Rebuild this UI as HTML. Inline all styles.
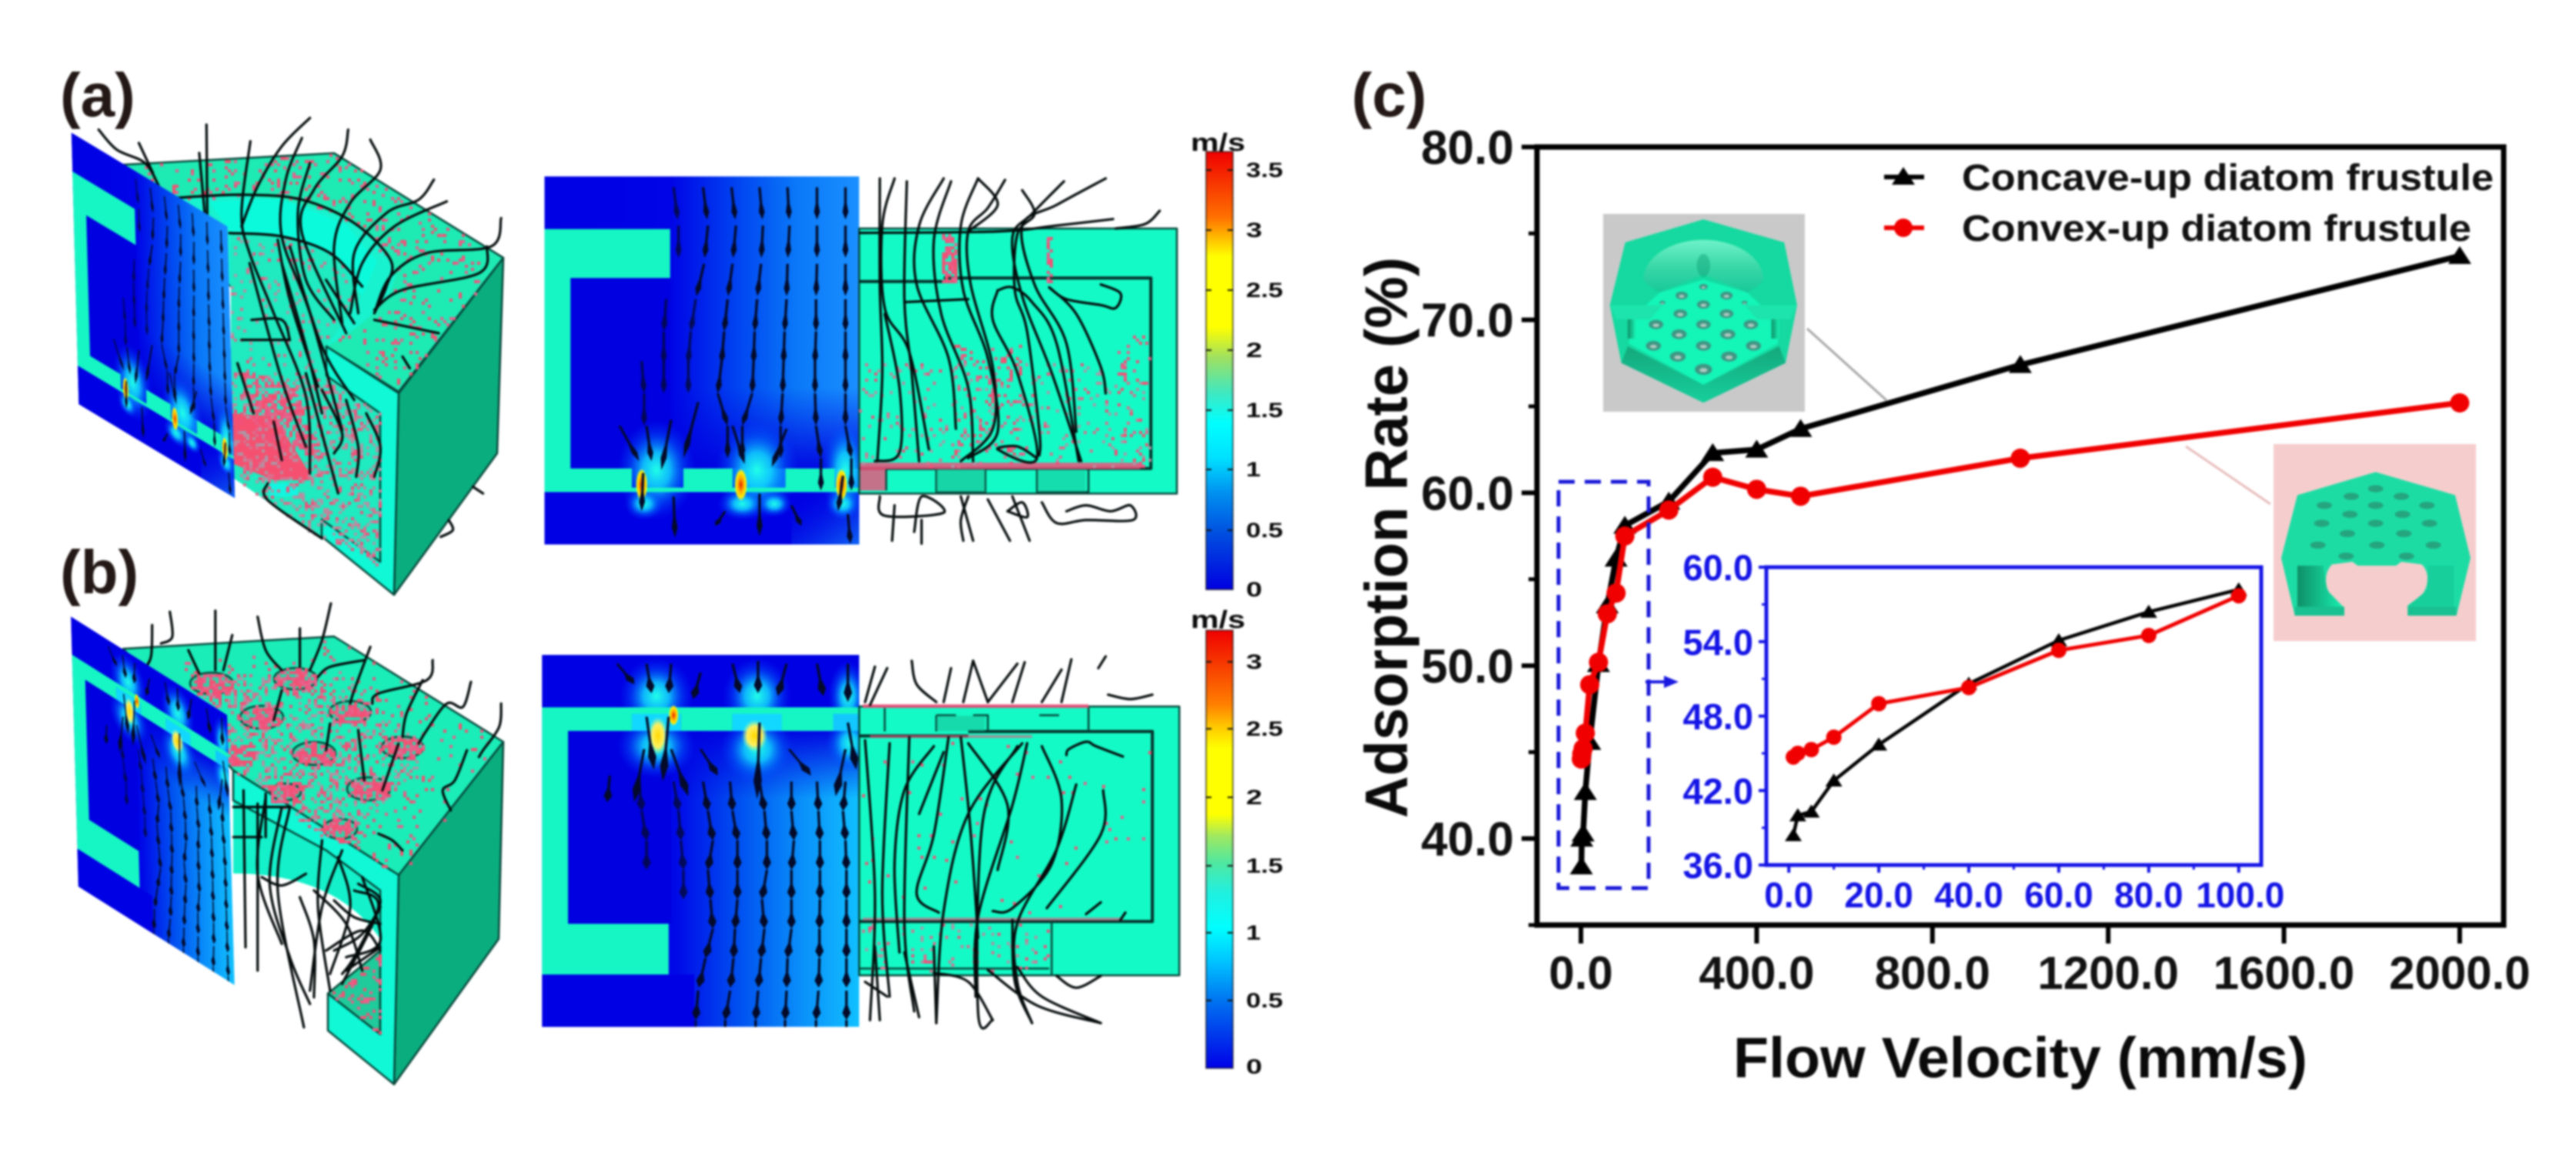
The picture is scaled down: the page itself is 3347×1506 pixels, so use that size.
<!DOCTYPE html>
<html lang="en"><head><meta charset="utf-8"><title>Flow fields and adsorption rate of diatom frustules</title>
<style>
html,body{margin:0;padding:0;background:#fff;width:3347px;height:1506px;overflow:hidden}
svg{display:block;filter:blur(1.3px)}
text{font-family:"Liberation Sans",Arial,sans-serif;font-weight:bold}
.sl{fill:none;stroke:#040a0a;stroke-width:3.2;stroke-linejoin:round;stroke-linecap:round;vector-effect:non-scaling-stroke}
.edge{stroke:#07463a;stroke-width:2.5;stroke-linejoin:round;vector-effect:non-scaling-stroke}
.lbl{fill:#231815;font-size:80px}
.cb{fill:#0a0a0a;font-size:27px}
</style></head><body>
<svg id="figure" xmlns="http://www.w3.org/2000/svg" width="3347" height="1506" viewBox="0 0 3347 1506">
<defs>
<linearGradient id="gSliceA" x1="0" x2="1" y1="0" y2="0"><stop offset="0" stop-color="#0000e4"/><stop offset=".4" stop-color="#0004e6"/><stop offset=".6" stop-color="#0040f0"/><stop offset=".8" stop-color="#0a78f8"/><stop offset="1" stop-color="#1a90ff"/></linearGradient>
<linearGradient id="gSliceB" x1="0" x2="1" y1="0" y2="0"><stop offset="0" stop-color="#0000e4"/><stop offset=".42" stop-color="#0008e8"/><stop offset=".62" stop-color="#0050f0"/><stop offset=".82" stop-color="#0a90fa"/><stop offset="1" stop-color="#10c0ff"/></linearGradient>
<linearGradient id="gFadeDown" x1="0" x2="0" y1="0" y2="1"><stop offset="0" stop-color="#0000e0" stop-opacity="0"/><stop offset="1" stop-color="#0000e0" stop-opacity=".92"/></linearGradient>
<linearGradient id="gFadeUp" x1="0" x2="0" y1="1" y2="0"><stop offset="0" stop-color="#0000e0" stop-opacity="0"/><stop offset="1" stop-color="#0000e0" stop-opacity=".95"/></linearGradient>
<linearGradient id="gRightGlow" x1="0" x2="1" y1="0" y2="1"><stop offset="0" stop-color="#0000e0" stop-opacity="0"/><stop offset="1" stop-color="#1070f8" stop-opacity=".9"/></linearGradient>
<radialGradient id="gJet"><stop offset="0" stop-color="#20ffe8"/><stop offset=".35" stop-color="#10d8ff" stop-opacity=".85"/><stop offset=".7" stop-color="#0070ff" stop-opacity=".4"/><stop offset="1" stop-color="#0040ff" stop-opacity="0"/></radialGradient>
<radialGradient id="gHot"><stop offset="0" stop-color="#e81800"/><stop offset=".45" stop-color="#ffb000"/><stop offset=".8" stop-color="#fff000"/><stop offset="1" stop-color="#ffff40" stop-opacity="0"/></radialGradient>
<radialGradient id="gHotY"><stop offset="0" stop-color="#ffd800"/><stop offset=".6" stop-color="#fff060"/><stop offset="1" stop-color="#a0ffb0" stop-opacity="0"/></radialGradient>
<linearGradient id="gBarA" x1="0" x2="0" y1="0" y2="1"><stop offset="0" stop-color="#f00000"/><stop offset=".15" stop-color="#ff7000"/><stop offset=".2" stop-color="#ffc000"/><stop offset=".24" stop-color="#ffff00"/><stop offset=".4" stop-color="#ffff00"/><stop offset=".47" stop-color="#a0e060"/><stop offset=".55" stop-color="#40e8c0"/><stop offset=".62" stop-color="#00ffff"/><stop offset=".7" stop-color="#00e0ff"/><stop offset=".78" stop-color="#0090f0"/><stop offset=".87" stop-color="#0050e0"/><stop offset="1" stop-color="#0000e0"/></linearGradient>
<linearGradient id="gBarB" x1="0" x2="0" y1="0" y2="1"><stop offset="0" stop-color="#f00000"/><stop offset=".17" stop-color="#ff8000"/><stop offset=".22" stop-color="#ffc800"/><stop offset=".27" stop-color="#ffff00"/><stop offset=".42" stop-color="#ffff00"/><stop offset=".47" stop-color="#a0e860"/><stop offset=".53" stop-color="#50e8a0"/><stop offset=".6" stop-color="#20f0e0"/><stop offset=".68" stop-color="#00ffff"/><stop offset=".76" stop-color="#00c0ff"/><stop offset=".85" stop-color="#0070f0"/><stop offset="1" stop-color="#0000e8"/></linearGradient>
<linearGradient id="gBowl" x1="0" x2="0" y1="0" y2="1"><stop offset="0" stop-color="#6ff2c8"/><stop offset=".5" stop-color="#3ad8a8"/><stop offset="1" stop-color="#17c898"/></linearGradient>
<linearGradient id="gBevel" x1="0" x2="0" y1="0" y2="1"><stop offset="0" stop-color="#14a87c"/><stop offset="1" stop-color="#16cf9b"/></linearGradient>
<linearGradient id="gLeg" x1="0" x2="1" y1="0" y2="0"><stop offset="0" stop-color="#0f8f68"/><stop offset="1" stop-color="#18f0b0"/></linearGradient>
<clipPath id="clipA"><rect x="137" y="233" width="641" height="1250"/></clipPath>
<clipPath id="clipB"><rect x="132" y="290" width="646" height="1263"/></clipPath>
</defs>
<rect width="3347" height="1506" fill="#fff"/>

<!-- Panel a: 3D block -->
<g id="block-a">
<polygon class="edge" points="160,214 434,199 654,335 518,509 424,450 300,372" fill="#1eeab4"/>
<path d="M225,257C290,250 380,250 460,290C500,320 520,350 512,365C505,395 470,425 424,450L300,372Z" fill="#18f2cf"/>
<polygon points="300,305 366,305 445,333 470,385 424,450 424,490 494,537 494,734 418,698 345,650 300,619" fill="#1feac0"/>
<polygon points="272,262 366,258 450,292 490,340 470,385 440,335 366,305 298,300" fill="#0cfadc"/>
<polygon class="edge" points="654,335 518,511 512,773 646,589" fill="#0aad7e"/>
<polygon class="edge" points="424,450 518,511 512,773 418,697 418,675 494,730 494,537 424,488" fill="#10f8d6"/>
<polygon points="301,537 356,541 408,624 356,624 301,602" fill="#f5506f"/>
<polygon points="350,628 387,628 387,645 350,645" fill="#12f5e0"/>
</g>
<g id="specks-a"></g>
<g id="lines-a" transform="translate(0,60) scale(.523,.4337)">
<path class="sl" d="M430,455 600,445 750,460 880,530 970,640 960,720 930,800"/>
<path class="sl" d="M570,560 700,570 820,620 900,720"/>
<path class="sl" d="M245,250 290,310 360,350 395,420"/><path class="sl" d="M345,290 380,380"/>
<path class="sl" d="M513,235 515,520"/><path class="sl" d="M495,320 510,520"/>
<path class="sl" d="M622,285 600,500 620,620 680,800 760,1050 770,1280"/>
<path class="sl" d="M770,215 700,300 640,420 600,540"/>
<path class="sl" d="M750,275 710,400 700,570 770,800 850,1150"/>
<path class="sl" d="M770,350 740,500 760,700 830,820"/>
<path class="sl" d="M865,250 850,330 780,430 750,560 860,860"/>
<path class="sl" d="M920,280 945,370 870,470 830,600 850,830"/>
<path class="sl" d="M1078,400 1040,460 960,500 880,620 890,800"/>
<path class="sl" d="M1110,465 980,540 900,650 870,800"/>
<path class="sl" d="M1245,515 1220,600 1060,620 970,690 930,800"/>
<path class="sl" d="M1210,600 1190,680 1000,730 930,790"/>
<path class="sl" d="M930,820 1090,860"/><path class="sl" d="M1000,930 1018,965"/>
<path class="sl" d="M620,650 700,1000 760,1200"/><path class="sl" d="M680,1125 700,1240"/>
<path class="sl" d="M800,1030 850,1160 830,1220"/><path class="sl" d="M860,1060 890,1200 885,1290"/>
<path class="sl" d="M910,1100 945,1200 930,1290"/><path class="sl" d="M720,600 800,900 880,1060"/>
<path class="sl" d="M625,820 700,820 720,880"/><path class="sl" d="M600,880 720,880"/>
<path class="sl" d="M590,950 630,1100"/><path class="sl" d="M760,980 840,1340"/>
<path class="sl" d="M1175,1320 1200,1340"/><path class="sl" d="M1115,1420 1125,1450 1095,1470"/>
<path class="sl" d="M665,1310 665,1360 800,1475"/>
<path class="sl" d="M700,650 760,900 800,1100"/><path class="sl" d="M810,700 880,830"/><path class="sl" d="M690,580 720,760 790,1020"/>
</g>
<g id="slice-a">
<g transform="translate(620,140) scale(.638,.3827)" clip-path="url(#clipA)">
<rect x="137" y="233" width="641" height="1250" fill="url(#gSliceA)"/>
<rect x="393" y="950" width="385" height="275" fill="url(#gFadeDown)"/>
<rect x="137" y="1305" width="641" height="178" fill="#0000e4"/>
<rect x="640" y="1305" width="138" height="178" fill="url(#gRightGlow)"/>
<rect x="190" y="578" width="203" height="647" fill="#0000e0"/>
<ellipse cx="365" cy="1230" rx="80" ry="170" fill="url(#gJet)"/><ellipse cx="570" cy="1230" rx="85" ry="170" fill="url(#gJet)"/><ellipse cx="750" cy="1230" rx="50" ry="170" fill="url(#gJet)"/>
<ellipse cx="540" cy="1345" rx="50" ry="55" fill="url(#gJet)"/><ellipse cx="605" cy="1345" rx="36" ry="45" fill="url(#gJet)"/><ellipse cx="340" cy="1345" rx="40" ry="55" fill="url(#gJet)"/><ellipse cx="745" cy="1345" rx="36" ry="55" fill="url(#gJet)"/>
<path d="M137,412H393V578H190V1225H315V1290H420V1225H520V1290H628V1225H728V1290H778V1305H137Z" fill="#16f6c4"/>
<ellipse cx="335" cy="1280" rx="12" ry="55" fill="url(#gHot)"/><ellipse cx="537" cy="1280" rx="13" ry="55" fill="url(#gHot)"/><ellipse cx="742" cy="1280" rx="12" ry="55" fill="url(#gHot)"/>
<g id="quiver-a"></g>
</g></g>
<use href="#slice-a" transform="matrix(.4963,.2983,.02,.738,-263,-207.9)"/>

<!-- Panel a: 2D right half -->
<g transform="translate(620,140) scale(.638,.3827)">
<rect class="edge" x="778" y="410" width="647" height="900" fill="#14fac6"/>
<path class="edge" style="stroke-width:4;stroke:#06302a" d="M778,590H950M950,578H1372V1225H778" fill="none"/>
<rect x="780" y="1205" width="570" height="22" fill="#f0507a" opacity=".85"/>
<rect x="780" y="1225" width="52" height="75" fill="#f0507a" opacity=".8"/>
<path class="edge" d="M833,1228V1300M935,1228V1305H1035V1228M1140,1228V1305H1245V1228" fill="none"/>
<rect x="936" y="1228" width="98" height="76" fill="#18c49a" opacity=".7"/><rect x="1141" y="1228" width="98" height="76" fill="#18c49a" opacity=".55"/>
</g>
<g id="specks-a2"></g>
<g transform="translate(620,140) scale(.638,.3827)">
<path class="sl" d="M820,240 820,600 825,900 815,1200"/><path class="sl" d="M850,240 825,400 830,680 880,830 920,1160"/>
<path class="sl" d="M875,250 870,650 885,900 900,1200"/><path class="sl" d="M950,240 900,400 895,600 960,850 975,1090"/>
<path class="sl" d="M965,250 930,450 945,700 1000,950 1010,1200"/><path class="sl" d="M1020,240 985,400 990,620 1040,850 1060,1100 1000,1190"/>
<path class="sl" d="M1075,245 1040,340 1000,420 1005,600 1050,880 1050,1090 985,1200"/>
<path class="sl" d="M1110,280 1135,360 1100,430 1095,620 1120,760 1145,1100 1145,1180"/>
<path class="sl" d="M1195,250 1130,360 1090,440 1110,640 1170,900 1230,1200"/>
<path class="sl" d="M1280,240 1180,330 1110,400 1135,600 1200,800 1220,1100"/>
<path class="sl" d="M1020,240 1060,330 1000,420"/><path class="sl" d="M1390,350 1360,395 1300,410"/>
<path class="sl" d="M1295,378 1180,400 1060,420 780,425"/><path class="sl" d="M1165,610 1200,650 1270,670 1300,680 1310,630 1270,600"/>
<path class="sl" d="M1165,610 1220,700 1270,880 1280,970"/><path class="sl" d="M1060,620 1090,610 1130,660 1180,800 1225,1200"/>
<path class="sl" d="M870,660 1000,650"/><path class="sl" d="M1060,620 1050,720 1100,900 1140,1190 1060,1160 1100,1150 1140,1190"/>
<path class="sl" d="M830,700 860,950 860,1170 810,1200"/>
<path class="sl" d="M820,1320 830,1385 950,1375 905,1320 890,1440"/><path class="sl" d="M850,1350 845,1470"/><path class="sl" d="M905,1400 905,1480"/>
<path class="sl" d="M985,1320 1010,1470"/><path class="sl" d="M1000,1320 985,1400 990,1470"/><path class="sl" d="M1040,1330 1085,1470"/>
<path class="sl" d="M1090,1320 1125,1470"/><path class="sl" d="M1080,1370 1110,1340 1120,1390 1080,1370"/>
<path class="sl" d="M1150,1340 1180,1410 1240,1400 1335,1400 1330,1350 1290,1370 1240,1350 1200,1370"/>
</g>

<!-- Panel b: 3D block -->
<g>
<polygon class="edge" points="160,843 434,827 654,964 518,1137 303,1001" fill="#1aedb8"/>
<path d="M303,1040L424,1105L494,1157V1220C460,1170 400,1135 303,1135Z" fill="#14f0ca"/>
<polygon class="edge" points="426,1291 494,1235 494,1344" fill="#1fcb9a"/>
<polygon class="edge" points="654,964 518,1137 512,1409 648,1220" fill="#0aad7e"/>
<polygon class="edge" points="303,1001 518,1137 512,1409 426,1339 426,1291 494,1344 494,1157 424,1105 303,1040" fill="#10f8d6"/>
<g fill="#25d8a8" class="edge">
<ellipse cx="275" cy="888" rx="28" ry="14"/><ellipse cx="384" cy="882" rx="28" ry="14"/><ellipse cx="340" cy="932" rx="28" ry="15"/><ellipse cx="455" cy="925" rx="27" ry="14"/><ellipse cx="408" cy="979" rx="28" ry="15"/><ellipse cx="523" cy="971" rx="27" ry="14"/><ellipse cx="479" cy="1025" rx="28" ry="15"/><ellipse cx="371" cy="1029" rx="20" ry="11"/><ellipse cx="442" cy="1077" rx="22" ry="13"/>
</g></g>
<g id="specks-b"></g>
<g transform="translate(0,680) scale(.523,.4337)">
<path class="sl" d="M378,305 375,400 355,440"/><path class="sl" d="M422,265 428,340 400,360"/><path class="sl" d="M468,380 495,450"/>
<path class="sl" d="M535,262 535,440"/><path class="sl" d="M577,335 555,440"/><path class="sl" d="M640,280 660,380 700,440"/>
<path class="sl" d="M745,315 745,430"/><path class="sl" d="M822,240 800,350 770,440"/><path class="sl" d="M920,370 880,500 870,540"/>
<path class="sl" d="M905,410 820,430 790,460"/><path class="sl" d="M1075,410 1060,470 940,510 925,540"/>
<path class="sl" d="M1170,475 1150,550 1110,540 1060,620 1040,660"/><path class="sl" d="M1245,540 1240,610 1200,680 1190,700"/>
<path class="sl" d="M1160,680 1130,770 1100,800 1120,860"/><path class="sl" d="M1050,470 1010,570 1000,640"/>
<path class="sl" d="M700,500 680,590"/><path class="sl" d="M820,600 810,680"/><path class="sl" d="M890,620 905,770"/><path class="sl" d="M990,660 950,800"/>
<path class="sl" d="M940,930 975,950 1000,980"/>
<path class="sl" d="M605,800 610,1270"/><path class="sl" d="M640,840 640,1340"/><path class="sl" d="M660,820 640,1050 700,1260"/>
<path class="sl" d="M700,850 670,1080 720,1300 770,1440"/><path class="sl" d="M720,850 690,1100 755,1510"/>
<path class="sl" d="M800,950 790,1150 820,1400"/><path class="sl" d="M850,980 800,1150 770,1400"/><path class="sl" d="M840,1000 870,1150 820,1350"/>
<path class="sl" d="M880,1100 940,1150 850,1380"/><path class="sl" d="M900,1060 945,1250 860,1300"/><path class="sl" d="M945,1150 880,1300 850,1350"/>
<path class="sl" d="M830,1130 880,1180 945,1200"/><path class="sl" d="M810,1280 900,1220 945,1280"/><path class="sl" d="M860,1340 945,1270"/>
<path class="sl" d="M580,940H650"/><path class="sl" d="M660,810V940"/><path class="sl" d="M580,850H720"/>
<path class="sl" d="M650,1060 700,1085 760,1050"/>
<path class="sl" d="M890,1080 945,1130 900,1230 830,1280"/><path class="sl" d="M780,1100 860,1200 900,1340"/><path class="sl" d="M745,1120 780,1250 780,1420"/>
</g>
<g id="slice-b">
<g transform="translate(620,740) scale(.638,.3827)" clip-path="url(#clipB)">
<rect x="132" y="290" width="646" height="1263" fill="url(#gSliceB)"/>
<rect x="132" y="290" width="646" height="178" fill="#0000e4"/>
<rect x="390" y="548" width="388" height="230" fill="url(#gFadeUp)"/>
<rect x="185" y="548" width="210" height="655" fill="#0000e0"/>
<rect x="132" y="1375" width="310" height="178" fill="#0000e4"/>
<ellipse cx="365" cy="430" rx="75" ry="130" fill="url(#gJet)"/><ellipse cx="570" cy="430" rx="70" ry="130" fill="url(#gJet)"/><ellipse cx="755" cy="430" rx="40" ry="120" fill="url(#gJet)"/>
<ellipse cx="365" cy="600" rx="80" ry="110" fill="url(#gJet)"/><ellipse cx="570" cy="610" rx="75" ry="120" fill="url(#gJet)"/><ellipse cx="760" cy="590" rx="50" ry="100" fill="url(#gJet)"/>
<path d="M132,468H778V490H725V548H620V490H520V548H415V490H315V548H185V1203H390V1375H132Z" fill="#16f6c4"/>
<rect x="315" y="490" width="100" height="58" fill="#12d8ff"/><rect x="520" y="490" width="100" height="58" fill="#12d8ff"/><rect x="725" y="490" width="53" height="58" fill="#12c8ff"/>
<ellipse cx="368" cy="565" rx="20" ry="65" fill="url(#gHotY)"/><ellipse cx="565" cy="565" rx="26" ry="55" fill="url(#gHotY)"/><ellipse cx="400" cy="495" rx="10" ry="35" fill="url(#gHot)"/>
<g id="quiver-b"></g>
</g></g>
<use href="#slice-b" transform="matrix(.4927,.3107,.02,.726,-271.9,-35.5)"/>

<!-- Panel b: 2D right half -->
<g transform="translate(620,740) scale(.638,.3827)">
<rect class="edge" x="778" y="465" width="652" height="913" fill="#14fac6"/>
<path class="edge" style="stroke-width:4;stroke:#06302a" d="M778,565H1000M1000,550H1375V1195H1160M1160,1195H778" fill="none"/>
<path class="edge" d="M830,470V550M935,495H975M1010,495H1040V550M1145,495H1185M935,495V550M1245,465V550M1170,1195V1378" fill="none"/>
<rect x="936" y="497" width="98" height="52" fill="#18c49a" opacity=".6"/>
<path class="edge" d="M778,1355H1165" fill="none"/>
<rect x="785" y="458" width="460" height="12" fill="#f0507a" opacity=".9"/>
<rect x="800" y="562" width="330" height="10" fill="#f0507a" opacity=".6"/>
<rect x="785" y="1182" width="530" height="10" fill="#f0507a" opacity=".6"/>
</g>
<g id="specks-b2"></g>
<g transform="translate(620,740) scale(.638,.3827)">
<path class="sl" d="M810,330 790,450"/><path class="sl" d="M835,335 800,460"/><path class="sl" d="M885,310 895,390 935,450"/><path class="sl" d="M965,335 950,450"/>
<path class="sl" d="M1010,310 990,450"/><path class="sl" d="M1010,310 1040,450"/><path class="sl" d="M1100,320 1040,450"/><path class="sl" d="M1115,315 1090,450"/>
<path class="sl" d="M1190,340 1150,450"/><path class="sl" d="M1210,305 1190,450"/><path class="sl" d="M1280,295 1265,335"/><path class="sl" d="M1285,425 1330,440 1375,425"/>
<path class="sl" d="M790,580 810,1100 800,1530"/><path class="sl" d="M840,590 825,1100 840,1450"/><path class="sl" d="M880,570 870,1200 890,1500"/>
<path class="sl" d="M930,600 870,750 850,1000 860,1300"/><path class="sl" d="M950,620 900,830"/><path class="sl" d="M960,570 930,900 895,1100 940,1165"/>
<path class="sl" d="M985,570 1000,800 1010,1000 1020,1250"/><path class="sl" d="M1000,590 1080,800 1060,1020"/><path class="sl" d="M1110,590 1000,830 950,1160 935,1540"/>
<path class="sl" d="M1120,590 1090,800 1020,1180 1015,1450"/><path class="sl" d="M1150,600 1190,780 1170,1000 1090,1150 1050,1160"/>
<path class="sl" d="M1220,730 1180,950 1100,1200 1100,1400 1130,1540"/><path class="sl" d="M1275,750 1270,900 1160,1150"/>
<path class="sl" d="M1200,630 1205,610 1240,585 1260,600 1315,635"/><path class="sl" d="M1100,600 1030,850 1020,1500 1050,1530"/>
<path class="sl" d="M1040,1360 1140,1480 1270,1540"/><path class="sl" d="M790,1400 835,1450"/><path class="sl" d="M810,1280 820,1530"/><path class="sl" d="M870,1300 900,1520"/>
<path class="sl" d="M930,1280 935,1540"/><path class="sl" d="M1180,1380 1220,1420 1270,1380"/><path class="sl" d="M1100,1350 1150,1450 1270,1540"/>
<path class="sl" d="M930,1370 1000,1400 1050,1530"/><path class="sl" d="M1240,1170 1270,1130"/><path class="sl" d="M1310,1190 1320,1165"/>
<path class="sl" d="M1090,1190 1095,1400 1130,1540"/>
</g>

<!-- Colour bars -->
<g>
<text class="cb" x="1547" y="196" style="font-size:32px" textLength="71" lengthAdjust="spacingAndGlyphs">m/s</text>
<rect x="1567" y="197" width="35" height="569" fill="url(#gBarA)" stroke="#000" stroke-opacity=".55" stroke-width="2"/>
<path d="M1567,221h7M1595,221h7M1567,299h7M1595,299h7M1567,377h7M1595,377h7M1567,455h7M1595,455h7M1567,533h7M1595,533h7M1567,610h7M1595,610h7M1567,689h7M1595,689h7" stroke="#111" stroke-width="2"/>
<text class="cb" x="1619" y="230" textLength="48" lengthAdjust="spacingAndGlyphs">3.5</text>
<text class="cb" x="1619" y="308" textLength="21" lengthAdjust="spacingAndGlyphs">3</text>
<text class="cb" x="1619" y="386" textLength="48" lengthAdjust="spacingAndGlyphs">2.5</text>
<text class="cb" x="1619" y="464" textLength="21" lengthAdjust="spacingAndGlyphs">2</text>
<text class="cb" x="1619" y="542" textLength="48" lengthAdjust="spacingAndGlyphs">1.5</text>
<text class="cb" x="1619" y="619" textLength="19" lengthAdjust="spacingAndGlyphs">1</text>
<text class="cb" x="1619" y="698" textLength="48" lengthAdjust="spacingAndGlyphs">0.5</text>
<text class="cb" x="1619" y="775" textLength="21" lengthAdjust="spacingAndGlyphs">0</text>
</g>
<g>
<text class="cb" x="1547" y="816" style="font-size:32px" textLength="71" lengthAdjust="spacingAndGlyphs">m/s</text>
<rect x="1567" y="819" width="35" height="569" fill="url(#gBarB)" stroke="#000" stroke-opacity=".55" stroke-width="2"/>
<path d="M1567,860h7M1595,860h7M1567,947h7M1595,947h7M1567,1036h7M1595,1036h7M1567,1125h7M1595,1125h7M1567,1212h7M1595,1212h7M1567,1300h7M1595,1300h7" stroke="#111" stroke-width="2"/>
<text class="cb" x="1619" y="869" textLength="21" lengthAdjust="spacingAndGlyphs">3</text>
<text class="cb" x="1619" y="956" textLength="48" lengthAdjust="spacingAndGlyphs">2.5</text>
<text class="cb" x="1619" y="1045" textLength="21" lengthAdjust="spacingAndGlyphs">2</text>
<text class="cb" x="1619" y="1134" textLength="48" lengthAdjust="spacingAndGlyphs">1.5</text>
<text class="cb" x="1619" y="1221" textLength="19" lengthAdjust="spacingAndGlyphs">1</text>
<text class="cb" x="1619" y="1309" textLength="48" lengthAdjust="spacingAndGlyphs">0.5</text>
<text class="cb" x="1619" y="1395" textLength="21" lengthAdjust="spacingAndGlyphs">0</text>
</g>

<text class="lbl" x="78" y="151">(a)</text>
<text class="lbl" x="78" y="771">(b)</text>
<text class="lbl" x="1756" y="151">(c)</text>

<!-- Panel c: chart -->
<g>
<line x1="2348" y1="427" x2="2451" y2="520" stroke="#a8a8a8" stroke-width="3"/>
<line x1="2840" y1="580" x2="2950" y2="655" stroke="#e8bcbc" stroke-width="3"/>
<g id="main-axes"></g>
<g id="main-series"></g>
<rect x="2025" y="626" width="117" height="528" fill="none" stroke="#1818d8" stroke-width="5" stroke-dasharray="21 13"/>
<g><line x1="2138" y1="886" x2="2168" y2="886" stroke="#1818e0" stroke-width="4"/><polygon points="2181,886 2162,878 2162,894" fill="#1818e0"/></g>
<text transform="translate(1828,1063) rotate(-90)" style="font-size:78px" fill="#0a0a0a" textLength="729" lengthAdjust="spacingAndGlyphs">Adsorption Rate (%)</text>
<text x="2252" y="1400" style="font-size:74px" fill="#0a0a0a" textLength="746" lengthAdjust="spacingAndGlyphs">Flow Velocity (mm/s)</text>
<g>
<line x1="2448" y1="230" x2="2500" y2="230" stroke="#000" stroke-width="6"/><polygon points="2473,217 2488,240 2458,240" fill="#000"/>
<text x="2549" y="247" style="font-size:48px" fill="#111" textLength="691" lengthAdjust="spacingAndGlyphs">Concave-up diatom frustule</text>
<line x1="2448" y1="296" x2="2500" y2="296" stroke="#f00000" stroke-width="6"/><circle cx="2473" cy="296" r="12" fill="#f00000"/>
<text x="2549" y="313" style="font-size:48px" fill="#111" textLength="662" lengthAdjust="spacingAndGlyphs">Convex-up diatom frustule</text>
</g>
<g>
<rect x="2083" y="278" width="262" height="257" fill="#c9c9c9"/>
<g transform="translate(1930,240) scale(.3333)">
<polygon points="850,135 1165,225 1215,470 1170,695 850,850 530,695 485,470 545,225" fill="#15d9a0"/>
<path d="M615,370C620,270 740,215 850,215C960,215 1080,270 1085,370C1060,400 1040,410 1020,420L850,350L680,420C660,410 640,400 615,370Z" fill="url(#gBowl)"/>
<ellipse cx="850" cy="315" rx="26" ry="45" fill="#0f9f78" opacity=".45"/>
<polygon points="850,370 1020,420 1140,530 1140,620 850,780 560,620 560,530 680,420" fill="#14f5b8"/>
<polygon points="530,695 555,630 850,780 1145,630 1170,695 850,850" fill="url(#gBevel)"/>
<polygon points="485,470 690,470 640,525 510,525" fill="#1ce4ac"/><polygon points="1215,470 1010,470 1060,525 1190,525" fill="#1ce4ac"/>
<rect x="555" y="525" width="30" height="75" fill="url(#gLeg)"/><rect x="1115" y="525" width="30" height="75" fill="url(#gLeg)"/>
<g id="holes-concave"></g>
</g></g>
<g>
<rect x="2954" y="577" width="263" height="256" fill="#f6cdcd"/>
<g transform="translate(2940,560) scale(.3333)">
<path d="M440,160L750,250L810,495L755,720H565V680L620,640C650,600 650,550 620,520L540,510L520,525H370L350,510L270,520C240,550 240,600 262,635L318,690V720H125L72,495L135,250Z" fill="#1cdca4"/>
<polygon points="135,525 235,525 250,620 318,690 135,685" fill="url(#gLeg)"/>
<polygon points="745,525 645,525 640,620 565,685 745,685" fill="#17cf9a"/>
<rect x="125" y="685" width="193" height="35" fill="#19c090"/><rect x="565" y="685" width="190" height="35" fill="#19c090"/>
<g id="holes-convex"></g>
</g></g>
<g id="inset-plot"></g>
</g>
</svg>
<script>
// ---- chart data ----
const velocities = [1, 2, 5, 10, 20, 40, 60, 80, 100, 200, 300, 400, 500, 1000, 2000];
const concaveRates = [38.4, 40.0, 40.3, 42.7, 45.6, 50.1, 53.5, 56.2, 58.1, 59.5, 62.3, 62.5, 63.7, 67.4, 73.7];
const convexRates = [44.6, 44.9, 45.2, 46.1, 48.9, 50.2, 53.0, 54.2, 57.5, 59.0, 60.9, 60.2, 59.8, 62.0, 65.2];
const insetVelocities = [1, 2, 5, 10, 20, 40, 60, 80, 100];
const insetConcaveRates = [38.4, 40.0, 40.3, 42.8, 45.7, 50.6, 54.1, 56.4, 58.2];
const insetConvexRates = [44.7, 45.0, 45.3, 46.3, 49.0, 50.3, 53.3, 54.5, 57.7];
const xTicks = [0, 400, 800, 1200, 1600, 2000];
const xTickLabels = ["0.0", "400.0", "800.0", "1200.0", "1600.0", "2000.0"];
const yTicks = [40, 50, 60, 70, 80];
const yTickLabels = ["40.0", "50.0", "60.0", "70.0", "80.0"];
const yMinorTicks = [35, 45, 55, 65, 75];
const insetXTicks = [0, 20, 40, 60, 80, 100];
const insetXTickLabels = ["0.0", "20.0", "40.0", "60.0", "80.0", "100.0"];
const insetYTicks = [36, 42, 48, 54, 60];
const insetYTickLabels = ["36.0", "42.0", "48.0", "54.0", "60.0"];
const insetYMinorTicks = [39, 45, 51, 57];
const insetXMinorTicks = [10, 30, 50, 70, 90];

const NS = "http://www.w3.org/2000/svg";
function mk(tag, parent, attrs) {
  const e = document.createElementNS(NS, tag);
  for (const k in attrs) e.setAttribute(k, attrs[k]);
  parent.appendChild(e);
  return e;
}
function linear(d0, d1, r0, r1) { return v => r0 + (v - d0) * (r1 - r0) / (d1 - d0); }

function drawSeries(parent, xs, ys, sx, sy, color, lw, kind, size, name) {
  const pts = xs.map((v, i) => sx(v) + "," + sy(ys[i])).join(" ");
  const line = mk("polyline", parent, { points: pts, fill: "none", stroke: color, "stroke-width": lw, "stroke-linejoin": "round" });
  
  
  xs.forEach((v, i) => {
    const cx = sx(v), cy = sy(ys[i]);
    let m;
    if (kind === "tri") {
      m = mk("polygon", parent, { points: cx + "," + (cy - size * .85) + " " + (cx + size) + "," + (cy + size * .7) + " " + (cx - size) + "," + (cy + size * .7), fill: color });
    } else {
      m = mk("circle", parent, { cx: cx, cy: cy, r: size, fill: color });
    }
    
    
  });
}

// ---- main axes ----
const mainX = linear(-100, 2100, 1997, 3253);
const mainY = linear(35, 80, 1202, 191);
const axG = document.getElementById("main-axes");
const frame = mk("rect", axG, { x: 1997, y: 191, width: 1256, height: 1011, fill: "none", stroke: "#000", "stroke-width": 7 });


xTicks.forEach((v, i) => {
  const t = mk("line", axG, { x1: mainX(v), x2: mainX(v), y1: 1202, y2: 1226, stroke: "#000", "stroke-width": 6 });
  
  
  const l = mk("text", axG, { x: mainX(v), y: 1285, "text-anchor": "middle", fill: "#111", style: "font-size:60px" });
  l.textContent = xTickLabels[i];
  
  
});
yTicks.forEach((v, i) => {
  const t = mk("line", axG, { x1: 1977, x2: 1997, y1: mainY(v), y2: mainY(v), stroke: "#000", "stroke-width": 6 });
  
  
  const l = mk("text", axG, { x: 1967, y: mainY(v) + 22, "text-anchor": "end", fill: "#111", style: "font-size:62px" });
  l.textContent = yTickLabels[i];
  
  
});
yMinorTicks.forEach(v => {
  const t = mk("line", axG, { x1: 1986, x2: 1997, y1: mainY(v), y2: mainY(v), stroke: "#000", "stroke-width": 5 });
  
  
});
const serG = document.getElementById("main-series");
drawSeries(serG, velocities, concaveRates, mainX, mainY, "#000", 7.5, "tri", 15, "concave-series");
drawSeries(serG, velocities, convexRates, mainX, mainY, "#f00000", 7.5, "circle", 12.5, "convex-series");

// ---- inset ----
const inX = linear(-5, 105, 2295, 2938);
const inY = linear(36, 60, 1124, 737);
const inG = document.getElementById("inset-plot");
const inBg = mk("rect", inG, { x: 2295, y: 737, width: 643, height: 387, fill: "#fff", stroke: "#1414e6", "stroke-width": 5 });


insetXTicks.forEach((v, i) => {
  const t = mk("line", inG, { x1: inX(v), x2: inX(v), y1: 1124, y2: 1134, stroke: "#1414e6", "stroke-width": 4 });
  
  
  const l = mk("text", inG, { x: inX(v) + (v === 100 ? 2 : 0), y: 1179, "text-anchor": "middle", fill: "#1414e6", style: "font-size:46px" });
  l.textContent = insetXTickLabels[i];
  
  
});
insetXMinorTicks.forEach(v => {
  const t = mk("line", inG, { x1: inX(v), x2: inX(v), y1: 1124, y2: 1130, stroke: "#1414e6", "stroke-width": 3 });
  
  
});
insetYTicks.forEach((v, i) => {
  const t = mk("line", inG, { x1: 2285, x2: 2295, y1: inY(v), y2: inY(v), stroke: "#1414e6", "stroke-width": 4 });
  
  
  const l = mk("text", inG, { x: 2278, y: inY(v) + 17, "text-anchor": "end", fill: "#1414e6", style: "font-size:47px" });
  l.textContent = insetYTickLabels[i];
  
  
});
insetYMinorTicks.forEach(v => {
  const t = mk("line", inG, { x1: 2289, x2: 2295, y1: inY(v), y2: inY(v), stroke: "#1414e6", "stroke-width": 3 });
  
  
});
drawSeries(inG, insetVelocities, insetConcaveRates, inX, inY, "#000", 4.5, "tri", 11, "inset-concave-series");
drawSeries(inG, insetVelocities, insetConvexRates, inX, inY, "#f00000", 5, "circle", 10, "inset-convex-series");

// ---- frustule pores (decorative) ----
const holesC = document.getElementById("holes-concave");
[[850,398,.6],[765,432,.85],[940,432,.85],[850,467,.9],[760,503,.95],[940,503,.95],[665,545,1],[850,545,1],[1035,545,1],[755,583,1.05],[945,583,1.05],[655,628,1.05],[850,628,1.05],[1045,628,1.05],[750,670,1.1],[950,670,1.1],[850,720,1.2],[690,460,.4],[1010,460,.4]].forEach(h => {
  const a = mk("ellipse", holesC, { cx: h[0], cy: h[1], rx: 28 * h[2], ry: 18 * h[2], fill: "#3f9683" });
  
  
  mk("ellipse", holesC, { cx: h[0], cy: h[1] + 3, rx: 13 * h[2], ry: 7 * h[2], fill: "#b0c8c0" });
});
const holesV = document.getElementById("holes-convex");
[[440,225],[345,255],[540,255],[240,290],[440,290],[640,290],[340,325],[545,325],[230,360],[440,360],[650,360],[330,400],[550,400],[215,445],[445,445],[665,445],[325,488],[560,488]].forEach(h => {
  const a = mk("ellipse", holesV, { cx: h[0], cy: h[1], rx: 30, ry: 14, fill: "#25a47e" });
  
  
});

// ---- simulation decoration: velocity arrows (thin shaft + slim head) ----
function arrow(g, x1, y1, x2, y2, w, op) {
  const dx = x2 - x1, dy = y2 - y1, L = Math.hypot(dx, dy) || 1, ux = -dy / L, uy = dx / L;
  const s = 2.6, ax = x1 + dx * .5, ay = y1 + dy * .5, mx = x1 + dx * .76, my = y1 + dy * .76, h = w / 2;
  const pts = [[x1 + ux * s, y1 + uy * s], [ax + ux * s, ay + uy * s], [mx + ux * h, my + uy * h], [x2, y2], [mx - ux * h, my - uy * h], [ax - ux * s, ay - uy * s], [x1 - ux * s, y1 - uy * s]];
  const p = mk("polygon", g, { points: pts.map(q => q[0] + "," + q[1]).join(" "), fill: "#040a28", opacity: op });
  
  
}
function quiver(id, rows, cols, pairs, w, len) {
  const g = document.getElementById(id);
  cols.forEach(c => c.forEach((x, i) => {
    if (x === null) return;
    const nx = (c[i + 1] === undefined || c[i + 1] === null) ? x : c[i + 1];
    const ry = i + 1 < rows.length ? rows[i + 1] - rows[i] : rows[i] - rows[i - 1];
    const f = len / ry;
    arrow(g, x, rows[i], x + (nx - x) * f, rows[i] + len, w, x < 450 ? .75 : 1);
  }));
  pairs.forEach(p => arrow(g, p[0], p[1], p[2], p[3], w, 1));
}
quiver("quiver-a", [270,400,530,650,760,860,970,1080,1190], [
  [750,750,750,750,750,750,750,750,762],
  [692,692,692,690,690,688,688,690,700],
  [632,636,632,630,626,624,622,618,null],
  [575,582,578,570,565,563,560,540,null],
  [518,527,520,510,503,498,490,510,null],
  [460,470,462,445,435,430,null,null,null],
  [400,410,null,385,380,380,null,null,null],
  [null,null,null,null,null,335,340,null,null]
], [[345,1080,355,1200],[395,1060,375,1230],[450,1000,420,1190],[520,1080,545,1210],[630,1090,600,1220],[290,1080,330,1200],[338,1240,335,1370],[400,1320,403,1460],[575,1310,575,1455],[640,1350,660,1420],[505,1370,485,1420],[745,1250,735,1370],[755,1380,760,1480]], 12, 110);
quiver("quiver-b", [720,820,920,1020,1120,1220,1320,1430,1530], [
  [750,745,750,752,752,752,752,752,752],
  [692,695,698,698,698,697,697,695,690],
  [640,640,645,640,640,640,632,630,627],
  [575,585,590,590,580,585,578,572,567],
  [515,520,530,530,530,525,522,515,505],
  [460,470,480,470,475,480,465,450,445],
  [400,410,415,420,null,null,null,null,null],
  [330,335,345,null,null,null,null,null,null]
], [[285,320,320,390],[345,320,355,420],[395,320,390,420],[455,350,440,440],[520,320,535,420],[572,310,572,420],[630,320,612,430],[692,320,705,430],[755,320,755,450],[345,500,360,680],[390,500,378,720],[340,610,320,790],[395,610,430,770],[575,520,570,780],[455,610,490,700],[635,610,680,700],[750,610,730,770],[755,520,772,680],[270,700,265,790]], 17, 100);

// ---- smooth streamlines (Catmull-Rom) ----
document.querySelectorAll("path.sl").forEach(p => {
  const nums = p.getAttribute("d").replace(/[MLHV]/g, " ").trim().split(/[\s,]+/).map(Number);
  if (/[HV]/.test(p.getAttribute("d")) || nums.length < 6) return;
  const P = [];
  for (let i = 0; i < nums.length; i += 2) P.push([nums[i], nums[i + 1]]);
  let d = "M" + P[0];
  for (let i = 0; i < P.length - 1; i++) {
    const a = P[Math.max(i - 1, 0)], b = P[i], c = P[i + 1], e = P[Math.min(i + 2, P.length - 1)];
    d += "C" + (b[0] + (c[0] - a[0]) / 6) + "," + (b[1] + (c[1] - a[1]) / 6) + " " + (c[0] - (e[0] - b[0]) / 6) + "," + (c[1] - (e[1] - b[1]) / 6) + " " + c[0] + "," + c[1];
  }
  p.setAttribute("d", d);
});

// ---- particle speckle (fixed-seed decorative texture, not data) ----
let seed = 20240611;
function rnd() { seed = (seed * 1664525 + 1013904223) % 4294967296; return seed / 4294967296; }
function inPoly(x, y, P) {
  let c = false;
  for (let i = 0, j = P.length - 1; i < P.length; j = i++) {
    if ((P[i][1] > y) !== (P[j][1] > y) && x < (P[j][0] - P[i][0]) * (y - P[i][1]) / (P[j][1] - P[i][1]) + P[i][0]) c = !c;
  }
  return c;
}
function dot(g, x, y, s, col) {
  const r = mk("rect", g, { x: Math.round(x / 4) * 4, y: Math.round(y / 4) * 4, width: s, height: s, fill: col });
  
  
}
function specPoly(id, P, n, cols, s) {
  const g = document.getElementById(id), xs = P.map(p => p[0]), ys = P.map(p => p[1]);
  const x0 = Math.min(...xs), x1 = Math.max(...xs), y0 = Math.min(...ys), y1 = Math.max(...ys);
  let k = 0, guard = 0;
  while (k < n && guard++ < n * 30) {
    const x = x0 + rnd() * (x1 - x0), y = y0 + rnd() * (y1 - y0);
    if (inPoly(x, y, P)) { dot(g, x, y, s, cols[Math.floor(rnd() * cols.length)]); k++; }
  }
}
function specRect(id, x0, y0, x1, y1, n, cols, s) { specPoly(id, [[x0, y0], [x1, y0], [x1, y1], [x0, y1]], n, cols, s); }
function specEll(id, cx, cy, rx, ry, n, cols, s) {
  const g = document.getElementById(id);
  for (let i = 0; i < n; i++) {
    const t = rnd() * 6.283, r = Math.sqrt(rnd());
    dot(g, cx + Math.cos(t) * r * rx, cy + Math.sin(t) * r * ry, s, cols[Math.floor(rnd() * cols.length)]);
  }
}
const PK = ["#f0507a", "#e8608a", "#f5506f"], GP = ["#f0507a", "#b88c9e", "#a89aa8", "#d8708e"];
specPoly("specks-a", [[160,214],[434,199],[654,335],[518,509],[424,450],[500,400],[512,360],[460,290],[366,252],[225,257]], 340, PK, 4);
specPoly("specks-a", [[300,305],[366,305],[445,333],[470,385],[424,450],[424,490],[300,480]], 150, GP, 4);
specPoly("specks-a", [[300,480],[424,490],[494,537],[494,734],[418,698],[300,619]], 800, GP, 4);
specPoly("specks-a", [[310,480],[380,500],[420,600],[330,560]], 320, PK, 4);
specRect("specks-a2", 1223, 305, 1242, 366, 90, PK, 4);
specRect("specks-a2", 1358, 305, 1365, 366, 24, PK, 4);
specRect("specks-a2", 1116, 470, 1495, 606, 300, GP, 4);
specRect("specks-a2", 1240, 445, 1330, 590, 110, PK, 4);
specRect("specks-a2", 1450, 430, 1492, 600, 40, PK, 4);
specPoly("specks-b", [[303,1001],[518,1137],[654,964],[434,827],[230,860]], 300, PK, 4);
specPoly("specks-b", [[250,880],[440,870],[560,980],[480,1060],[420,1090],[300,990]], 700, GP, 4);
[[275,888],[384,882],[340,932],[455,925],[408,979],[523,971],[479,1025],[371,1029],[442,1077],[309,979]].forEach(c => specEll("specks-b", c[0], c[1], 27, 15, 75, PK, 4));
specPoly("specks-b", [[426,1291],[494,1235],[494,1344]], 60, PK, 4);
specRect("specks-b2", 1116, 960, 1495, 1190, 60, PK, 4);
specRect("specks-b2", 1120, 1200, 1360, 1262, 90, GP, 4);
</script>
</body></html>
